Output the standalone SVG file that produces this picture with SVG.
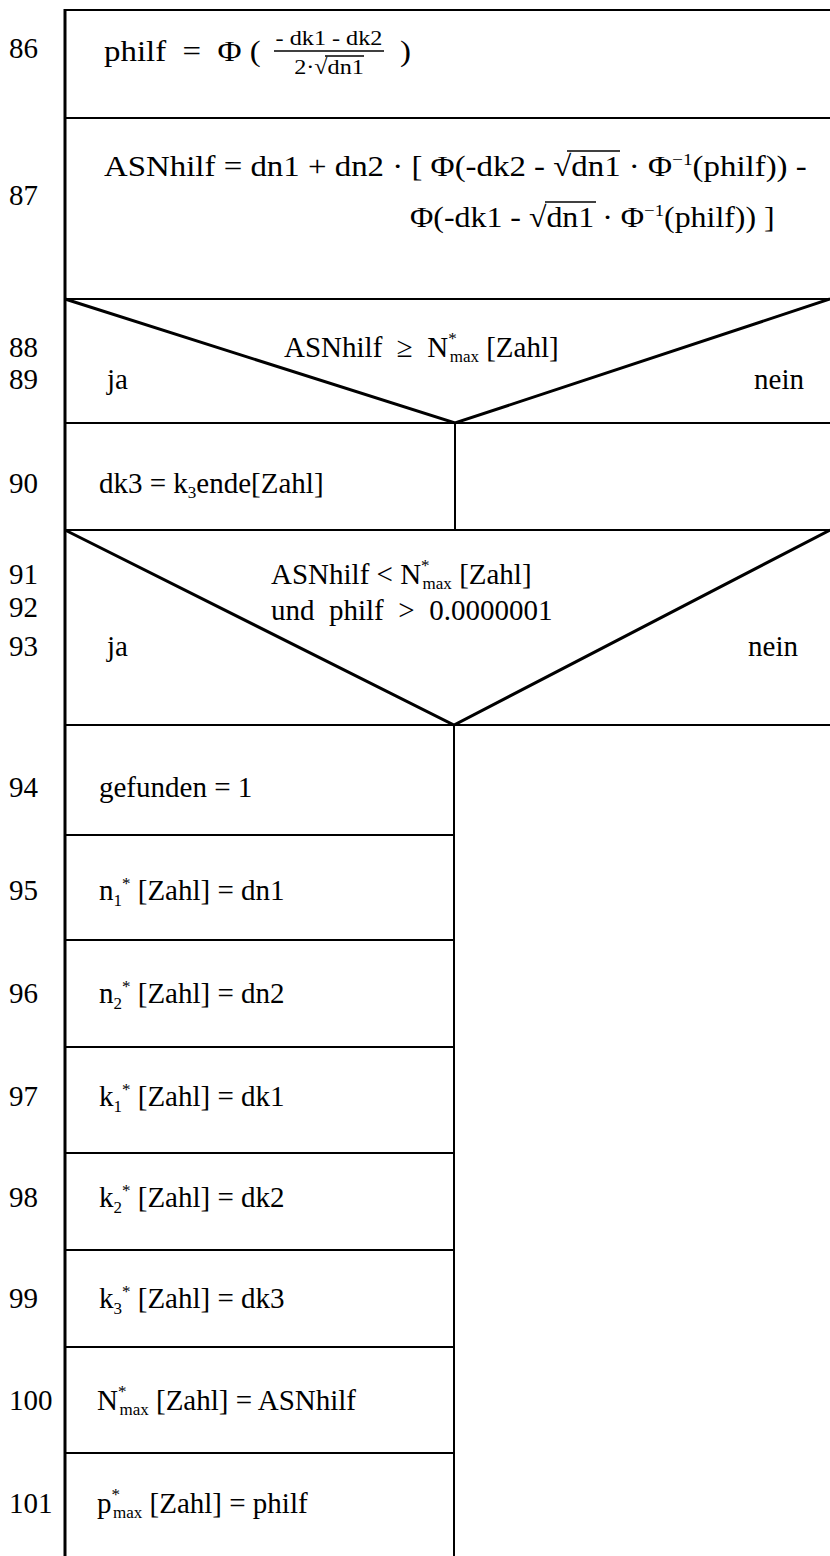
<svg xmlns="http://www.w3.org/2000/svg" width="830" height="1556" viewBox="0 0 830 1556">
<style>
.ln{stroke:#000;stroke-width:2;fill:none}
.dg{stroke:#000;stroke-width:3;fill:none}
.bd{stroke:#000;stroke-width:3;fill:none}
.ol{stroke:#000;stroke-width:1.3;fill:none}
text{font-family:"Liberation Serif","Times New Roman",serif;font-size:29px;fill:#000}
.sm{font-size:17px}
.fr{font-size:22px}
</style>
<rect width="830" height="1556" fill="#fff"/>
<g id="frame">
<line class="bd" x1="65" y1="9" x2="65" y2="1556"/>
<line class="ln" x1="454" y1="725" x2="454" y2="1556"/>
</g>
<g id="n86">
<line class="ln" x1="65" y1="10" x2="830" y2="10"/>
<text x="9" y="58">86</text>
<text transform="translate(104,61) scale(1.134,1)" xml:space="preserve">philf  =  Φ (</text>
<text class="fr" transform="translate(329,45) scale(1.1,1)" text-anchor="middle" xml:space="preserve">- dk1 - dk2</text>
<line x1="274" y1="51" x2="384" y2="51" stroke="#000" stroke-width="1.5"/>
<text class="fr" transform="translate(329,74) scale(1.1,1)" text-anchor="middle">2·√dn1</text>
<line class="ol" x1="325" y1="56" x2="364" y2="56"/>
<text transform="translate(400,61) scale(1.134,1)">)</text>
</g>
<g id="n87">
<line class="ln" x1="65" y1="118" x2="830" y2="118"/>
<text x="9" y="205">87</text>
<text transform="translate(104,176) scale(1.134,1)">ASNhilf = dn1 + dn2 · [ Φ(-dk2 - √dn1 · Φ<tspan class="sm" dy="-11">−1</tspan><tspan dy="11">(philf)) -</tspan></text>
<line class="ol" x1="567" y1="151" x2="620" y2="151"/>
<text transform="translate(410,227) scale(1.10,1)">Φ(-dk1 - √dn1 · Φ<tspan class="sm" dy="-11">−1</tspan><tspan dy="11">(philf)) ]</tspan></text>
<line class="ol" x1="545" y1="202" x2="596" y2="202"/>
</g>
<g id="n88">
<line class="ln" x1="65" y1="299" x2="830" y2="299"/>
<polyline class="dg" points="65,299 455,423 830,299"/>
<text x="9" y="357">88</text>
<text x="9" y="389">89</text>
<text x="284" y="357" xml:space="preserve">ASNhilf  ≥  N<tspan class="sm" dy="-13">*</tspan><tspan class="sm" dx="-7" dy="18">max</tspan><tspan dy="-5"> [Zahl]</tspan></text>
<text x="107" y="389">ja</text>
<text x="804" y="389" text-anchor="end">nein</text>
</g>
<g id="n90">
<line class="ln" x1="65" y1="423" x2="830" y2="423"/>
<line class="ln" x1="455" y1="423" x2="455" y2="530"/>
<text x="9" y="493">90</text>
<text x="99" y="493">dk3 = k<tspan class="sm" dy="5">3</tspan><tspan dy="-5">ende[Zahl]</tspan></text>
</g>
<g id="n91">
<line class="ln" x1="65" y1="530" x2="830" y2="530"/>
<polyline class="dg" points="65,530 454,725 830,530"/>
<text x="9" y="584">91</text>
<text x="9" y="617">92</text>
<text x="9" y="656">93</text>
<text x="271" y="584">ASNhilf &lt; N<tspan class="sm" dy="-13">*</tspan><tspan class="sm" dx="-7" dy="18">max</tspan><tspan dy="-5"> [Zahl]</tspan></text>
<text x="271" y="620" xml:space="preserve">und  philf  &gt;  0.0000001</text>
<text x="107" y="656">ja</text>
<text x="798" y="656" text-anchor="end">nein</text>
</g>
<g id="n94">
<line class="ln" x1="65" y1="725" x2="830" y2="725"/>
<text x="9" y="797">94</text>
<text x="99" y="797">gefunden = 1</text>
</g>
<g id="n95">
<line class="ln" x1="65" y1="835" x2="454" y2="835"/>
<text x="9" y="900">95</text>
<text x="99" y="900">n<tspan class="sm" dy="6">1</tspan><tspan class="sm" dy="-17">*</tspan><tspan dy="11"> [Zahl] = dn1</tspan></text>
</g>
<g id="n96">
<line class="ln" x1="65" y1="940" x2="454" y2="940"/>
<text x="9" y="1003">96</text>
<text x="99" y="1003">n<tspan class="sm" dy="6">2</tspan><tspan class="sm" dy="-17">*</tspan><tspan dy="11"> [Zahl] = dn2</tspan></text>
</g>
<g id="n97">
<line class="ln" x1="65" y1="1047" x2="454" y2="1047"/>
<text x="9" y="1106">97</text>
<text x="99" y="1106">k<tspan class="sm" dy="6">1</tspan><tspan class="sm" dy="-17">*</tspan><tspan dy="11"> [Zahl] = dk1</tspan></text>
</g>
<g id="n98">
<line class="ln" x1="65" y1="1153" x2="454" y2="1153"/>
<text x="9" y="1207">98</text>
<text x="99" y="1207">k<tspan class="sm" dy="6">2</tspan><tspan class="sm" dy="-17">*</tspan><tspan dy="11"> [Zahl] = dk2</tspan></text>
</g>
<g id="n99">
<line class="ln" x1="65" y1="1250" x2="454" y2="1250"/>
<text x="9" y="1308">99</text>
<text x="99" y="1308">k<tspan class="sm" dy="6">3</tspan><tspan class="sm" dy="-17">*</tspan><tspan dy="11"> [Zahl] = dk3</tspan></text>
</g>
<g id="n100">
<line class="ln" x1="65" y1="1347" x2="454" y2="1347"/>
<text x="9" y="1410">100</text>
<text x="97" y="1410">N<tspan class="sm" dy="-13">*</tspan><tspan class="sm" dx="-7" dy="18">max</tspan><tspan dy="-5"> [Zahl] = ASNhilf</tspan></text>
</g>
<g id="n101">
<line class="ln" x1="65" y1="1453" x2="454" y2="1453"/>
<text x="9" y="1513">101</text>
<text x="97" y="1513">p<tspan class="sm" dy="-13">*</tspan><tspan class="sm" dx="-7" dy="18">max</tspan><tspan dy="-5"> [Zahl] = philf</tspan></text>
</g>
<g id="connectors"></g>
</svg>
